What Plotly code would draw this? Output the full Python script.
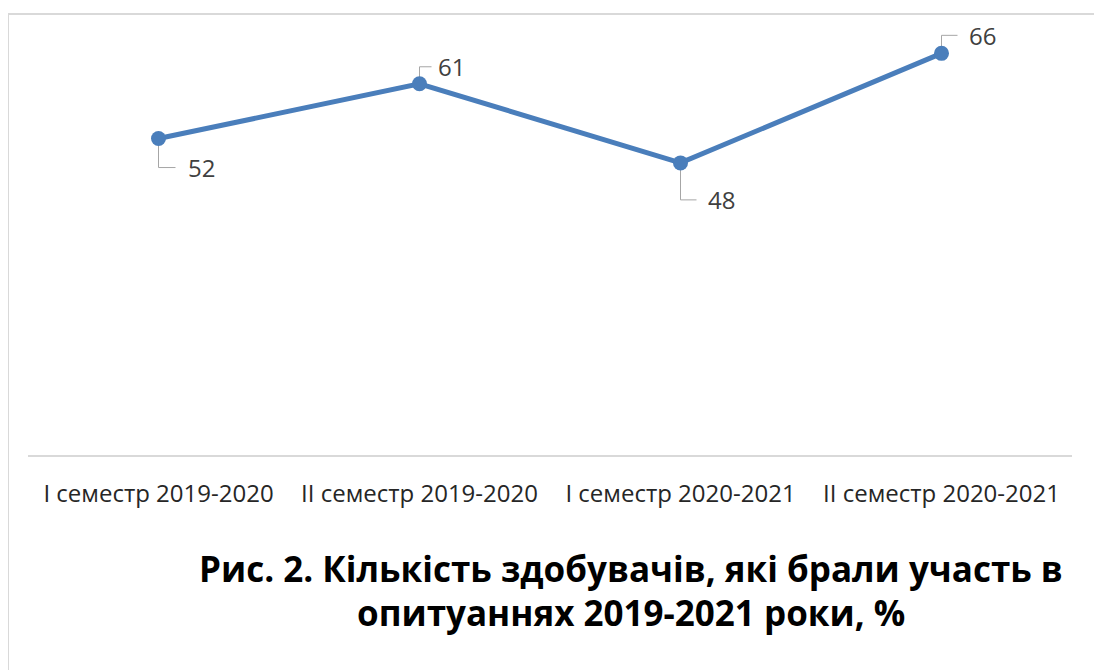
import plotly.graph_objects as go

# ---- data ----
CATEGORIES = ["I семестр 2019-2020", "II семестр 2019-2020",
              "I семестр 2020-2021", "II семестр 2020-2021"]
VALUES = [52, 61, 48, 66]
TITLE_LINES = ["Рис. 2. Кількість здобувачів, які брали участь в",
               "опитуаннях 2019-2021 роки, %"]

# ---- style ----
LINE_COLOR = "#4A7EBB"
LABEL_COLOR = "#404040"
LEADER_COLOR = "#A6A6A6"
FONT = "Open Sans"
# leader offsets (pixels, up positive): (vertical end, horizontal end, text x)
LEADERS = [(-29, 17, 27), (17, 12, 16), (-37, 16, 25), (18, 16, 25)]

OFF = 8  # page body margin
W, H = 1102, 670
ML, MT = 28 - OFF, 29 - OFF
PLOT_R, PLOT_B = 1072 - OFF, 455 - OFF
MR, MB = W - PLOT_R, H - PLOT_B
PW, PH = W - ML - MR, H - MT - MB

def px(x):
    return (x - OFF - ML) / PW

def py(y):
    return (PLOT_B - (y - OFF)) / PH

xs = list(range(len(CATEGORIES)))

fig = go.Figure()
fig.add_trace(go.Scatter(
    x=xs, y=VALUES, mode="lines+markers",
    line=dict(color=LINE_COLOR, width=5),
    marker=dict(color=LINE_COLOR, size=15),
    hoverinfo="skip", showlegend=False,
))

shapes = []
annotations = []
for xi, v, (dy, dx, tx) in zip(xs, VALUES, LEADERS):
    shapes.append(dict(
        type="path", xref="x", yref="y",
        xsizemode="pixel", ysizemode="pixel", xanchor=xi, yanchor=v,
        path=f"M 0,0 L 0,{dy} L {dx},{dy}",
        line=dict(color=LEADER_COLOR, width=1), layer="below",
    ))
    annotations.append(dict(
        x=xi, y=v, xref="x", yref="y", text=str(v), showarrow=False,
        xanchor="left", yanchor="middle", xshift=tx, yshift=dy,
        font=dict(family=FONT, size=24, color=LABEL_COLOR),
    ))

# chart border (cropped at right/bottom)
shapes.append(dict(type="rect", xref="paper", yref="paper",
                   x0=px(8), x1=px(1130), y0=py(700), y1=py(14),
                   line=dict(color="#D9D9D9", width=2), layer="below"))

for line, yc in zip(TITLE_LINES, [568, 612]):
    annotations.append(dict(
        x=px(631), y=py(yc), xref="paper", yref="paper", text=f"<b>{line}</b>",
        showarrow=False, xanchor="center", yanchor="middle",
        font=dict(family=FONT, size=35, color="#000000"),
    ))

fig.update_layout(
    width=W, height=H,
    margin=dict(l=ML, r=MR, t=MT, b=MB),
    paper_bgcolor="white", plot_bgcolor="white",
    shapes=shapes, annotations=annotations,
    xaxis=dict(range=[-0.5, len(CATEGORIES) - 0.5], tickvals=xs, ticktext=CATEGORIES,
               showgrid=False, zeroline=False, showline=True,
               linecolor="#D9D9D9", linewidth=1.5, ticks="",
               ticklabelstandoff=16,
               tickfont=dict(family=FONT, size=24, color="#262626")),
    yaxis=dict(range=[0, 70], visible=False, showgrid=False, zeroline=False),
)

fig.write_html("out.html")
